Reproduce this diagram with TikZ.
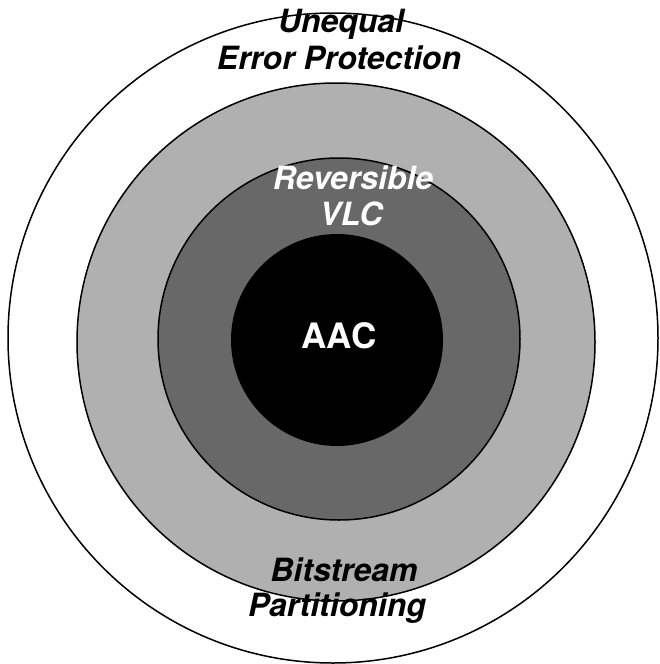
\documentclass[tikz,border=0pt]{standalone}
\usepackage{fontspec}
\setmainfont{TeX Gyre Heros}
\definecolor{lightring}{RGB}{176,176,176}
\definecolor{darkring}{RGB}{104,104,104}
\begin{document}
\begin{tikzpicture}[x=1pt,y=-1pt,
  ring/.style={draw=black,line width=1.5pt},
  lbl/.style={font=\fontsize{32}{38}\selectfont\bfseries\itshape,inner sep=0pt,anchor=base},
  ]
\useasboundingbox (0,0) rectangle (660,664);
\fill[white] (0,0) rectangle (660,664);
\draw[ring,fill=white] (333,338) circle[radius=325];
\draw[ring,fill=lightring] (336,342) circle[radius=259];
\draw[ring,fill=darkring] (339,339) circle[radius=181];
\fill[black] (337,340) circle[radius=106];
\node[lbl] (u1) at (341,32) {Unequal};
\node[lbl] (u2) at (339,69) {Error Protection};
\node[lbl,text=white] (r1) at (353,189) {Reversible};
\node[lbl,text=white] (r2) at (351,225) {VLC};
\node[lbl] (b1) at (344,581) {Bitstream};
\node[lbl] (b2) at (337,616) {Partitioning};
\node[font=\fontsize{35}{40}\selectfont\bfseries,text=white,inner sep=0pt,anchor=base] (aac) at (339,348) {AAC};
\end{tikzpicture}
\end{document}
